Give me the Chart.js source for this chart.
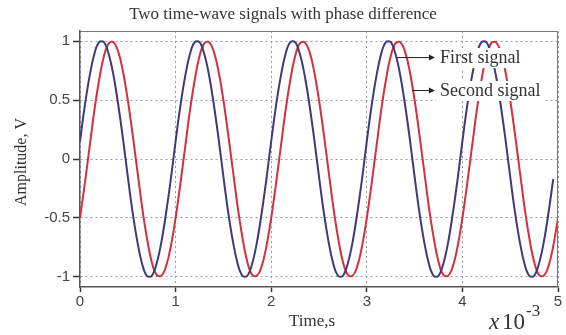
<!DOCTYPE html>
<html>
<head>
<meta charset="utf-8">
<script src="https://cdn.jsdelivr.net/npm/chart.js@4/dist/chart.umd.min.js"></script>
<style>
  body { margin: 0; background: #fff; }
  #wrap { width: 566px; height: 335px; }
</style>
</head>
<body>
<div id="wrap"><canvas id="lineChart"></canvas></div>
<script>
// sample times, in ms (axis is shown as x10^-3 s)
const timeMs = [
  0, 0.05, 0.1, 0.15, 0.2, 0.25, 0.3, 0.35, 0.4, 0.45, 0.5, 0.55, 0.6, 0.65, 0.7, 0.75, 0.8, 0.85, 0.9, 0.95,
  1, 1.05, 1.1, 1.15, 1.2, 1.25, 1.3, 1.35, 1.4, 1.45, 1.5, 1.55, 1.6, 1.65, 1.7, 1.75, 1.8, 1.85, 1.9, 1.95,
  2, 2.05, 2.1, 2.15, 2.2, 2.25, 2.3, 2.35, 2.4, 2.45, 2.5, 2.55, 2.6, 2.65, 2.7, 2.75, 2.8, 2.85, 2.9, 2.95,
  3, 3.05, 3.1, 3.15, 3.2, 3.25, 3.3, 3.35, 3.4, 3.45, 3.5, 3.55, 3.6, 3.65, 3.7, 3.75, 3.8, 3.85, 3.9, 3.95,
  4, 4.05, 4.1, 4.15, 4.2, 4.25, 4.3, 4.35, 4.4, 4.45, 4.5, 4.55, 4.6, 4.65, 4.7, 4.75, 4.8, 4.85, 4.9, 4.95,
  5
];

// first signal (blue), ends at 4.95 ms
const firstSignal = [
  0.15, 0.45, 0.7, 0.89, 0.99, 0.99, 0.89, 0.71, 0.46, 0.17, -0.15, -0.45, -0.7, -0.89, -0.99, -0.99, -0.89, -0.71, -0.46, -0.17,
  0.15, 0.45, 0.7, 0.89, 0.99, 0.99, 0.89, 0.71, 0.46, 0.17, -0.15, -0.45, -0.7, -0.89, -0.99, -0.99, -0.89, -0.71, -0.46, -0.17,
  0.15, 0.45, 0.7, 0.89, 0.99, 0.99, 0.89, 0.71, 0.46, 0.17, -0.15, -0.45, -0.7, -0.89, -0.99, -0.99, -0.89, -0.71, -0.46, -0.17,
  0.15, 0.45, 0.7, 0.89, 0.99, 0.99, 0.89, 0.71, 0.46, 0.17, -0.15, -0.45, -0.7, -0.89, -0.99, -0.99, -0.89, -0.71, -0.46, -0.17,
  0.15, 0.45, 0.7, 0.89, 0.99, 0.99, 0.89, 0.71, 0.46, 0.17, -0.15, -0.45, -0.7, -0.89, -0.99, -0.99, -0.89, -0.71, -0.46, -0.17
];

// second signal (red), lagging the first one
const secondSignal = [
  -0.5, -0.21, 0.1, 0.41, 0.67, 0.87, 0.98, 0.99, 0.91, 0.74, 0.5, 0.21, -0.1, -0.41, -0.67, -0.87, -0.98, -0.99, -0.91, -0.74,
  -0.5, -0.21, 0.1, 0.41, 0.67, 0.87, 0.98, 0.99, 0.91, 0.74, 0.5, 0.21, -0.1, -0.41, -0.67, -0.87, -0.98, -0.99, -0.91, -0.74,
  -0.5, -0.21, 0.1, 0.41, 0.67, 0.87, 0.98, 0.99, 0.91, 0.74, 0.5, 0.21, -0.1, -0.41, -0.67, -0.87, -0.98, -0.99, -0.91, -0.74,
  -0.5, -0.21, 0.1, 0.41, 0.67, 0.87, 0.98, 0.99, 0.91, 0.74, 0.5, 0.21, -0.1, -0.41, -0.67, -0.87, -0.98, -0.99, -0.91, -0.74,
  -0.5, -0.21, 0.1, 0.41, 0.67, 0.87, 0.98, 0.99, 0.91, 0.74, 0.5, 0.21, -0.1, -0.41, -0.67, -0.87, -0.98, -0.99, -0.91, -0.74,
  -0.5
];

const xTicks = [0, 1, 2, 3, 4, 5];
const yTicks = [-1, -0.5, 0, 0.5, 1];
const xTickLabels = ['0', '1', '2', '3', '4', '5'];
const yTickLabels = ['-1', '-0.5', '0', '0.5', '1'];

// where the two arrow labels point to (time ms, amplitude)
const labelTexts = ['First signal', 'Second signal'];
const arrowTails = [[3.316, 0.864], [3.473, 0.585]];
const arrowHeadX = 3.713;

const SERIF = '"Liberation Serif", "DejaVu Serif", serif';
const SANS = '"Liberation Sans", Arial, sans-serif';

const toPoints = (vals) => vals.map((v, i) => ({ x: timeMs[i], y: v }));

const extras = {
  id: 'extras',
  afterDatasetsDraw(chart) {
    const ctx = chart.ctx;
    const xs = chart.scales.x, ys = chart.scales.y;
    const a = chart.chartArea;
    ctx.save();
    // top / right frame
    ctx.strokeStyle = '#777';
    ctx.lineWidth = 1;
    ctx.beginPath();
    ctx.moveTo(a.left, a.top + 0.5);
    ctx.lineTo(a.right - 0.5, a.top + 0.5);
    ctx.lineTo(a.right - 0.5, a.bottom);
    ctx.stroke();

    // arrow labels with white boxes over the curves
    ctx.font = '18px ' + SERIF;
    ctx.textBaseline = 'middle';
    ctx.textAlign = 'left';
    for (let i = 0; i < labelTexts.length; i++) {
      const tx = xs.getPixelForValue(arrowTails[i][0]);
      const ty = ys.getPixelForValue(arrowTails[i][1]);
      const hx = xs.getPixelForValue(arrowHeadX);
      const w = ctx.measureText(labelTexts[i]).width;
      ctx.fillStyle = '#fff';
      ctx.fillRect(hx + 1, ty - 9, w + 8, 20);
      ctx.strokeStyle = '#222';
      ctx.fillStyle = '#222';
      ctx.lineWidth = 1;
      ctx.beginPath();
      ctx.moveTo(tx, ty + 0.5);
      ctx.lineTo(hx - 4, ty + 0.5);
      ctx.stroke();
      ctx.beginPath();
      ctx.moveTo(hx, ty + 0.5);
      ctx.lineTo(hx - 6, ty - 2.5);
      ctx.lineTo(hx - 6, ty + 3.5);
      ctx.closePath();
      ctx.fill();
      ctx.fillStyle = '#333';
      ctx.fillText(labelTexts[i], hx + 5, ty + 1);
    }
    ctx.restore();
  },
  afterDraw(chart) {
    const ctx = chart.ctx;
    ctx.save();
    ctx.fillStyle = '#333';
    ctx.textBaseline = 'middle';
    ctx.textAlign = 'center';
    ctx.font = '17px ' + SERIF;
    ctx.fillText('Two time-wave signals with phase difference', 283, 15);

    ctx.font = '17px ' + SERIF;
    ctx.fillText('Time,s', 312, 322);

    ctx.save();
    ctx.translate(22, 162);
    ctx.rotate(-Math.PI / 2);
    ctx.font = '16px ' + SERIF;
    ctx.fillText('Amplitude, V', 0, 0);
    ctx.restore();

    // x10^-3 multiplier
    ctx.textAlign = 'left';
    ctx.textBaseline = 'alphabetic';
    ctx.font = 'italic 23px ' + SERIF;
    ctx.fillText('x', 489, 329);
    ctx.font = '23px ' + SERIF;
    ctx.fillText('10', 502, 329);
    ctx.font = '17px ' + SERIF;
    ctx.fillText('-3', 526, 316);
    ctx.restore();
  }
};

const lineChart = new Chart(document.getElementById('lineChart'), {
  type: 'line',
  data: {
    datasets: [
      {
        label: labelTexts[0],
        data: toPoints(firstSignal),
        borderColor: '#3e3a7c',
        borderWidth: 2,
        pointRadius: 0,
        fill: false,
        tension: 0.4
      },
      {
        label: labelTexts[1],
        data: toPoints(secondSignal),
        borderColor: '#d4303f',
        borderWidth: 2,
        pointRadius: 0,
        fill: false,
        tension: 0.4
      }
    ]
  },
  options: {
    responsive: true,
    maintainAspectRatio: false,
    animation: false,
    layout: { padding: { left: 0, right: 8, top: 31, bottom: 0 } },
    plugins: {
      legend: { display: false },
      title: { display: false },
      tooltip: { enabled: false }
    },
    scales: {
      x: {
        type: 'linear',
        min: 0,
        max: 5,
        afterBuildTicks: (s) => { s.ticks = xTicks.map(v => ({ value: v })); },
        afterFit: (s) => { s.height = 48; },
        ticks: {
          callback: (v) => xTickLabels[xTicks.indexOf(v)],
          color: '#444',
          font: { family: SANS, size: 15 },
          padding: 1,
          maxRotation: 0
        },
        grid: {
          color: '#9a9a9a',
          lineWidth: 1,
          tickLength: 5,
          tickColor: '#333',
          tickWidth: 1.5
        },
        border: { color: '#555', width: 1.5, dash: [2, 3] }
      },
      y: {
        type: 'linear',
        min: -1.085,
        max: 1.085,
        afterBuildTicks: (s) => { s.ticks = yTicks.map(v => ({ value: v })); },
        afterFit: (s) => { s.width = 80; },
        ticks: {
          callback: (v) => yTickLabels[yTicks.indexOf(v)],
          color: '#444',
          font: { family: SANS, size: 15 },
          padding: 3
        },
        grid: {
          color: '#9a9a9a',
          lineWidth: 1,
          tickLength: 7,
          tickColor: '#333',
          tickWidth: 1.5
        },
        border: { color: '#555', width: 1.5, dash: [2, 3] }
      }
    }
  },
  plugins: [extras]
});
</script>
</body>
</html>
